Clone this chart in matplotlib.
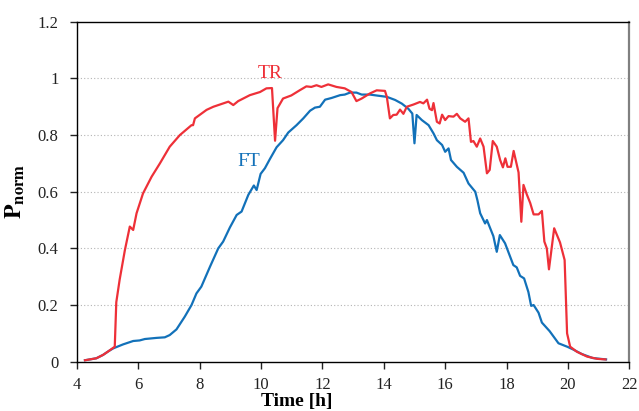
"""
Normalised power over one day: tracking (TR) vs fixed tilt (FT) panel.
Values read off the reference figure by eye.
"""

import matplotlib
matplotlib.use("Agg")
import matplotlib.pyplot as plt

TR_TIME = [4.27, 4.64, 4.86, 5.05, 5.24, 5.29, 5.40, 5.57, 5.73, 5.84, 5.95, 6.16,
           6.44, 6.71, 7.03, 7.36, 7.74, 7.79, 7.85, 8.23, 8.45, 8.94, 9.10, 9.26,
           9.64, 9.97, 10.18, 10.36, 10.46, 10.54, 10.72, 10.99, 11.26, 11.48, 11.64,
           11.81, 11.97, 12.19, 12.46, 12.73, 12.95, 13.11, 13.28, 13.55, 13.77, 14.04,
           14.10, 14.20, 14.31, 14.42, 14.53, 14.64, 14.75, 14.97, 15.18, 15.29, 15.41,
           15.49, 15.57, 15.62, 15.73, 15.82, 15.90, 16.00, 16.11, 16.27, 16.38, 16.49,
           16.65, 16.76, 16.84, 16.92, 17.03, 17.14, 17.25, 17.36, 17.45, 17.55, 17.68,
           17.79, 17.88, 17.96, 18.03, 18.14, 18.23, 18.39, 18.48, 18.55, 18.66, 18.77,
           18.88, 19.04, 19.15, 19.23, 19.31, 19.38, 19.55, 19.74, 19.89, 19.97, 20.07,
           20.29, 20.62, 20.95, 21.22]
TR_P = [0.005, 0.012, 0.024, 0.038, 0.053, 0.21, 0.29, 0.394, 0.477, 0.465, 0.524, 0.594,
        0.653, 0.70, 0.759, 0.80, 0.835, 0.835, 0.859, 0.889, 0.90, 0.918, 0.906, 0.92,
        0.941, 0.952, 0.965, 0.966, 0.78, 0.895, 0.929, 0.940, 0.958, 0.972, 0.970,
        0.976, 0.970, 0.979, 0.970, 0.965, 0.952, 0.92, 0.929, 0.947, 0.958, 0.956,
        0.935, 0.859, 0.871, 0.872, 0.89, 0.875, 0.90, 0.908, 0.917, 0.912, 0.925,
        0.893, 0.888, 0.913, 0.847, 0.841, 0.872, 0.853, 0.867, 0.865, 0.875, 0.859,
        0.847, 0.859, 0.776, 0.779, 0.759, 0.788, 0.759, 0.665, 0.677, 0.779, 0.759,
        0.712, 0.686, 0.718, 0.688, 0.688, 0.744, 0.668, 0.494, 0.624, 0.59, 0.56,
        0.52, 0.52, 0.532, 0.424, 0.40, 0.326, 0.471, 0.421, 0.359, 0.10, 0.053,
        0.035, 0.018, 0.01, 0.008]

FT_TIME = [4.27, 4.64, 4.86, 5.05, 5.19, 5.51, 5.84, 6.05, 6.22, 6.60, 6.87, 7.03, 7.25,
           7.52, 7.74, 7.90, 8.06, 8.34, 8.61, 8.77, 8.99, 9.21, 9.37, 9.59, 9.77, 9.86,
           9.99, 10.13, 10.29, 10.51, 10.72, 10.89, 11.16, 11.38, 11.60, 11.76, 11.92,
           12.09, 12.30, 12.58, 12.73, 12.90, 13.11, 13.28, 13.55, 13.82, 14.10, 14.37,
           14.59, 14.80, 14.93, 15.00, 15.07, 15.24, 15.46, 15.62, 15.73, 15.90, 16.00,
           16.11, 16.19, 16.38, 16.60, 16.76, 16.98, 17.05, 17.14, 17.30, 17.36, 17.57,
           17.68, 17.78, 17.95, 18.22, 18.33, 18.44, 18.57, 18.71, 18.80, 18.88, 19.04,
           19.15, 19.40, 19.69, 19.97, 20.15, 20.45, 20.80, 21.05, 21.24]
FT_P = [0.005, 0.012, 0.024, 0.038, 0.047, 0.061, 0.073, 0.075, 0.08, 0.084, 0.086, 0.094,
        0.114, 0.159, 0.20, 0.241, 0.265, 0.335, 0.40, 0.424, 0.474, 0.518, 0.53, 0.589,
        0.622, 0.606, 0.663, 0.683, 0.715, 0.757, 0.782, 0.809, 0.835, 0.859, 0.886,
        0.897, 0.90, 0.925, 0.931, 0.941, 0.943, 0.95, 0.95, 0.943, 0.943, 0.939, 0.935,
        0.924, 0.911, 0.893, 0.876, 0.771, 0.871, 0.853, 0.835, 0.806, 0.782, 0.765,
        0.741, 0.753, 0.712, 0.688, 0.667, 0.629, 0.60, 0.57, 0.524, 0.488, 0.50, 0.443,
        0.388, 0.447, 0.418, 0.341, 0.333, 0.303, 0.294, 0.246, 0.197, 0.20, 0.173,
        0.138, 0.108, 0.065, 0.053, 0.044, 0.027, 0.013, 0.01, 0.008]

X_TICKS = [4, 6, 8, 10, 12, 14, 16, 18, 20, 22]
Y_TICKS = [0, 0.2, 0.4, 0.6, 0.8, 1.0, 1.2]
Y_TICK_LABELS = ["0", "0.2", "0.4", "0.6", "0.8", "1", "1.2"]

RED = "#ee3038"
BLUE = "#1271b9"

plt.rcParams["font.family"] = "Liberation Serif"
plt.rcParams["mathtext.fontset"] = "stix"

fig = plt.figure(figsize=(6.39, 4.11), dpi=100)
ax = fig.add_axes([0.120, 0.120, 0.865, 0.827])

ax.plot(FT_TIME, FT_P, color=BLUE, lw=1.6, zorder=3)
ax.plot(TR_TIME, TR_P, color=RED, lw=1.6, zorder=4)

ax.text(10.31, 1.019, "TR", color=RED, fontsize=14, ha="center", va="center")
ax.text(9.60, 0.706, "FT", color=BLUE, fontsize=14, ha="center", va="center")

ax.set_xlim(4, 22)
ax.set_ylim(0, 1.2)
ax.set_xticks(X_TICKS)
ax.set_yticks(Y_TICKS)
ax.set_yticklabels(Y_TICK_LABELS)
ax.tick_params(direction="out", length=5, width=1, labelsize=12, colors="#222222")
ax.tick_params(axis="x", pad=6)
ax.tick_params(axis="y", pad=8)
for y in Y_TICKS[1:-1]:
    ax.axhline(y, color="#b4b4b4", lw=0.8, ls=(0, (1, 2)), zorder=1)

for side in ["left", "bottom", "top"]:
    ax.spines[side].set_color("black")
    ax.spines[side].set_linewidth(1.0)
ax.spines["right"].set_color("#808080")
ax.spines["right"].set_linewidth(1.6)

fig.text(297 / 639, 1 - 401 / 411, "Time [h]", fontsize=14, fontweight="bold",
         ha="center", va="center")
fig.text(15 / 639, 1 - 191 / 411, r"$\mathbf{P}_{\mathbf{norm}}$", fontsize=17,
         rotation=90, ha="center", va="center")

fig.savefig("out.png", dpi=100)
